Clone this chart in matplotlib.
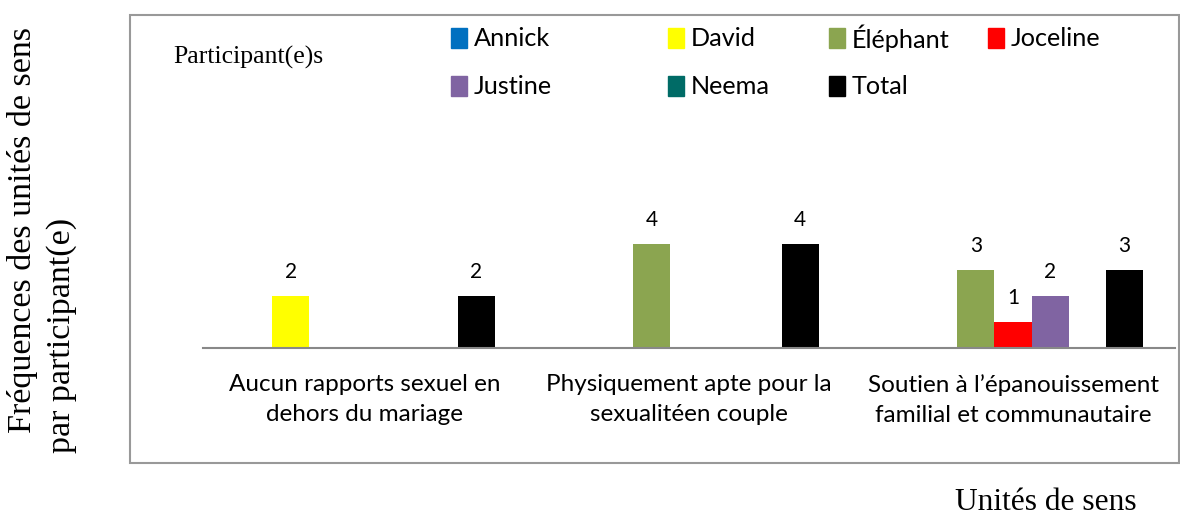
import matplotlib
matplotlib.use("Agg")
import matplotlib.pyplot as plt
from matplotlib.patches import Rectangle
import numpy as np

# Units of meaning (categories) and per-participant frequencies
categories = [
    "Aucun rapports sexuel en\ndehors du mariage",
    "Physiquement apte pour la\nsexualitéen couple",
    "Soutien à l\u2019épanouissement\nfamilial et communautaire",
]
participants = ["Annick", "David", "Éléphant", "Joceline", "Justine", "Neema", "Total"]
annick = [0, 0, 0]
david = [2, 0, 0]
elephant = [0, 4, 3]
joceline = [0, 0, 1]
justine = [0, 0, 2]
neema = [0, 0, 0]
total = [2, 4, 3]
series = [annick, david, elephant, joceline, justine, neema, total]
colors = ["#0070C0", "#FFFF00", "#8BA550", "#FF0000", "#8064A2", "#006B66", "#000000"]

SANS = ["Lato", "DejaVu Sans"]
SERIF = ["Liberation Serif", "DejaVu Serif"]

W, H = 1180, 518
fig = plt.figure(figsize=(W / 100, H / 100), dpi=100)

def fx(px):
    return px / W

def fy(py):
    return 1 - py / H

# Outer chart frame
fig.patches.append(Rectangle((fx(130), fy(463)), fx(1179) - fx(130), fy(15) - fy(463),
                             transform=fig.transFigure, fill=False,
                             edgecolor="#999999", lw=1.5, zorder=0))

ax = fig.add_axes([fx(203), fy(348), fx(1175) - fx(203), fy(88) - fy(348)])
ax.set_xlim(-0.5, len(categories) - 0.5)
ax.set_ylim(0, 10)

n = len(series)
bw = 0.8 / n
x = np.arange(len(categories))
for i, (vals, col) in enumerate(zip(series, colors)):
    pos = x + (i - (n - 1) / 2) * bw
    bars = ax.bar(pos, vals, width=bw, color=col, label=participants[i])
    for b, v in zip(bars, vals):
        if v > 0:
            ax.annotate(str(v), (b.get_x() + b.get_width() / 2, v),
                        xytext=(0, 13), textcoords="offset points",
                        ha="center", va="baseline", fontsize=15, family=SANS)

for s in ["left", "right", "top"]:
    ax.spines[s].set_visible(False)
ax.spines["bottom"].set_color("#888888")
ax.spines["bottom"].set_linewidth(1.5)
ax.set_yticks([])
ax.set_xticks(x)
ax.set_xticklabels(categories, fontsize=17.5, family=SANS, linespacing=1.5)
ax.tick_params(axis="x", length=0, pad=19)

# Legend entries placed in a 4-column grid
leg_x = [451, 668, 829, 988]
leg_y = [38, 86]
for i, (name, col) in enumerate(zip(participants, colors)):
    cx = leg_x[i % 4]
    cy = leg_y[i // 4]
    fig.patches.append(Rectangle((fx(cx), fy(cy + 9.5)), fx(16), 19 / H,
                                 transform=fig.transFigure, color=col))
    fig.text(fx(cx + 23), fy(cy), name, fontsize=18.2, family=SANS,
             ha="left", va="center")

fig.text(fx(173), fy(57), "Participant(e)s", fontsize=18.5, family=SERIF,
         ha="left", va="center")

fig.text(fx(23), fy(433), "Fréquences des unités de sens", rotation=90,
         fontsize=24.5, family=SERIF, ha="center", va="bottom")
fig.text(fx(62), fy(453), "par participant(e)", rotation=90,
         fontsize=24.5, family=SERIF, ha="center", va="bottom")

fig.text(fx(955), fy(503), "Unités de sens", fontsize=22.7, family=SERIF,
         ha="left", va="center")

fig.savefig("out.png", dpi=100)
